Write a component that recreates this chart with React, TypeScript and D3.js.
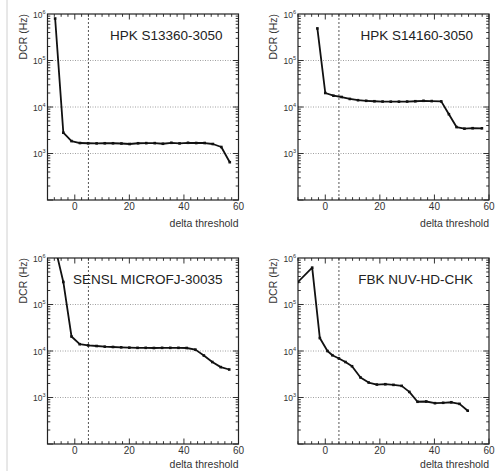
import React, { useEffect, useRef } from 'react';
import * as d3 from 'd3';

// titles of the four sensors
const titles = ['HPK S13360-3050', 'HPK S14160-3050', 'SENSL MICROFJ-30035', 'FBK NUV-HD-CHK'];

// HPK S13360-3050
const hpk13360X = [-7.2, -4.2, -1.2, 1.9, 4.9, 8, 11, 14, 17.1, 20.1, 23.2, 26.2, 29.3, 32.3, 35.4, 38.4, 41.5, 44.5, 47.6, 50.6, 53.7, 56.8];
const hpk13360Y = [800000, 2800, 1850, 1680, 1660, 1650, 1660, 1660, 1640, 1600, 1660, 1670, 1670, 1620, 1700, 1650, 1700, 1680, 1680, 1600, 1380, 650];

// HPK S14160-3050
const hpk14160X = [-2.9, 0, 3, 6, 9, 12, 15, 18, 21, 24, 27, 30, 33, 36, 39, 42.5, 45.3, 48.1, 51, 54, 57.4];
const hpk14160Y = [490000, 20000, 17500, 16400, 14900, 14000, 13600, 13300, 13100, 13000, 13000, 13100, 13300, 13600, 13400, 13200, 7000, 3700, 3420, 3500, 3480];

// SENSL MICROFJ-30035
const senslX = [-7.2, -4.2, -1.2, 1.8, 4.9, 8, 11, 14, 17, 20, 23, 26, 29, 32, 35, 38, 41, 44.2, 47.3, 50.4, 53.5, 56.6];
const senslY = [1700000, 305000, 20500, 14000, 13200, 12800, 12400, 12200, 12000, 11800, 11700, 11700, 11600, 11700, 11700, 11700, 11600, 10700, 8000, 5800, 4500, 4000];

// FBK NUV-HD-CHK
const fbkX = [-10, -4.8, -2, 0.8, 2.6, 5, 7.4, 9.8, 12.9, 15.9, 18.9, 22, 25, 28, 30.8, 33.8, 37, 40.2, 43.2, 46.2, 49.2, 52.2];
const fbkY = [305000, 620000, 19000, 10000, 8100, 6900, 5800, 4700, 2700, 2100, 1900, 1930, 1870, 1780, 1320, 810, 820, 755, 770, 790, 730, 520];

const xTickLabels = [0, 20, 40, 60];
const yTickExponents = [3, 4, 5, 6];
const gridValues = [1e3, 1e4, 1e5];
const thresholdLine = 5;

const seriesX = [hpk13360X, hpk14160X, senslX, fbkX];
const seriesY = [hpk13360Y, hpk14160Y, senslY, fbkY];

const FONT = 'Liberation Sans, Arial, Helvetica, sans-serif';

export default function App() {
  const ref = useRef<SVGSVGElement>(null);

  useEffect(() => {
    const svg = d3.select(ref.current);
    svg.selectAll('*').remove();

    svg.append('rect').attr('width', 495).attr('height', 471).attr('fill', '#fff');
    // thin border on the far left
    svg.append('line')
      .attr('x1', 7).attr('x2', 7).attr('y1', 0).attr('y2', 471)
      .attr('stroke', '#d0d0d0').attr('stroke-width', 1);

    var frames = [
      { left: 47.5, top: 14 },
      { left: 298, top: 14 },
      { left: 47.5, top: 258 },
      { left: 298, top: 258 },
    ];
    var w = 191, h = 186;

    frames.forEach(function (f, i) {
      var x = d3.scaleLinear().domain([-10, 60]).range([f.left, f.left + w]);
      var y = d3.scaleLog().domain([100, 1e6]).range([f.top + h, f.top]);
      var g = svg.append('g');

      g.append('clipPath').attr('id', 'clip' + i)
        .append('rect')
        .attr('x', f.left).attr('y', f.top).attr('width', w).attr('height', h);

      // horizontal grid
      gridValues.forEach(function (v) {
        g.append('line')
          .attr('x1', f.left).attr('x2', f.left + w)
          .attr('y1', y(v)).attr('y2', y(v))
          .attr('stroke', '#a0a0a0').attr('stroke-width', 1)
          .attr('stroke-dasharray', '1,1.5');
      });

      // threshold line
      g.append('line')
        .attr('x1', x(thresholdLine)).attr('x2', x(thresholdLine))
        .attr('y1', f.top).attr('y2', f.top + h)
        .attr('stroke', '#555').attr('stroke-width', 1)
        .attr('stroke-dasharray', '2,2');

      // x ticks (bottom and top)
      d3.range(-10, 60.01, 2.5).forEach(function (t) {
        var len = t % 20 === 0 ? 5.5 : 2.8;
        g.append('line')
          .attr('x1', x(t)).attr('x2', x(t))
          .attr('y1', f.top + h).attr('y2', f.top + h - len)
          .attr('stroke', '#333');
        g.append('line')
          .attr('x1', x(t)).attr('x2', x(t))
          .attr('y1', f.top).attr('y2', f.top + len)
          .attr('stroke', '#333');
      });

      // y ticks (left and right)
      for (var e = 2; e < 6; e++) {
        for (var m = 1; m < 10; m++) {
          var v = m * Math.pow(10, e);
          var len = m === 1 ? 5.5 : 2.8;
          g.append('line')
            .attr('x1', f.left).attr('x2', f.left + len)
            .attr('y1', y(v)).attr('y2', y(v))
            .attr('stroke', '#333');
          g.append('line')
            .attr('x1', f.left + w).attr('x2', f.left + w - len)
            .attr('y1', y(v)).attr('y2', y(v))
            .attr('stroke', '#333');
        }
      }

      // frame
      g.append('rect')
        .attr('x', f.left).attr('y', f.top).attr('width', w).attr('height', h)
        .attr('fill', 'none').attr('stroke', '#222').attr('stroke-width', 1.2);

      // curve
      var xs = seriesX[i];
      var ys = seriesY[i];
      var line = d3.line<number>()
        .x(function (d, j) { return x(xs[j]); })
        .y(function (d) { return y(d); });
      var cg = g.append('g').attr('clip-path', 'url(#clip' + i + ')');
      cg.append('path')
        .attr('d', line(ys))
        .attr('fill', 'none').attr('stroke', '#111').attr('stroke-width', 1.8)
        .attr('stroke-linejoin', 'round');
      cg.selectAll('.pt')
        .data(ys)
        .enter()
        .append('rect')
        .attr('x', function (d, j) { return x(xs[j]) - 1.3; })
        .attr('y', function (d) { return y(d) - 1.3; })
        .attr('width', 2.6).attr('height', 2.6)
        .attr('fill', '#111');

      // x tick labels
      xTickLabels.forEach(function (t) {
        g.append('text')
          .attr('x', x(t)).attr('y', f.top + h + 9.5)
          .attr('text-anchor', 'middle')
          .attr('font-family', FONT).attr('font-size', 10)
          .attr('fill', '#333')
          .text(t);
      });

      // y tick labels
      yTickExponents.forEach(function (p) {
        var t = g.append('text')
          .attr('x', f.left - 2).attr('y', y(Math.pow(10, p)) + 3.5)
          .attr('text-anchor', 'end')
          .attr('font-family', FONT).attr('font-size', 8.5)
          .attr('fill', '#333');
        t.append('tspan').text('10');
        t.append('tspan').attr('dy', -4).attr('font-size', 5.5).text(p);
      });

      // axis titles
      g.append('text')
        .attr('transform', 'translate(' + (f.left - 21) + ',' + f.top + ') rotate(-90)')
        .attr('text-anchor', 'end')
        .attr('font-family', FONT).attr('font-size', 10.5)
        .attr('fill', '#333')
        .text('DCR (Hz)');
      g.append('text')
        .attr('x', f.left + w).attr('y', i < 2 ? f.top + h + 27 : 468)
        .attr('text-anchor', 'end')
        .attr('font-family', FONT).attr('font-size', 10.5)
        .attr('fill', '#333')
        .text('delta threshold');

      // sensor name
      g.append('text')
        .attr('x', f.left + w - 16).attr('y', f.top + 26)
        .attr('text-anchor', 'end')
        .attr('font-family', FONT).attr('font-size', 13.5)
        .attr('fill', '#222')
        .text(titles[i]);
    });
  }, []);

  return (
    <svg ref={ref} width={495} height={471}
      style={{ position: 'absolute', left: 0, top: 0, display: 'block' }}></svg>
  );
}
